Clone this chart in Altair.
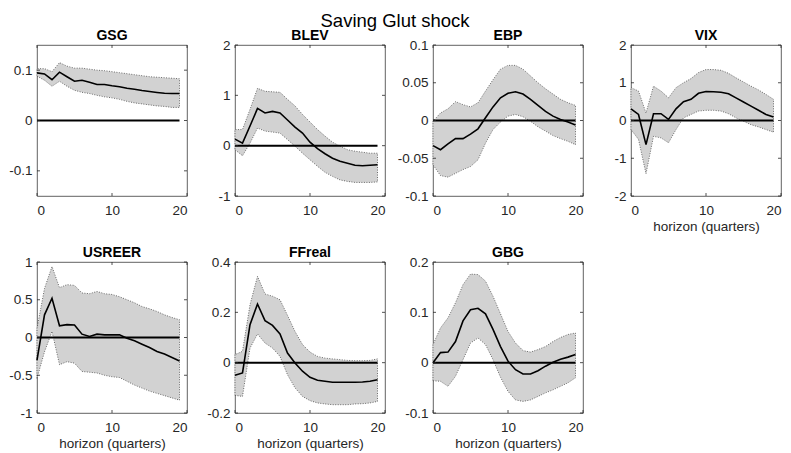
import altair as alt
import pandas as pd

H = list(range(20))

GSG_MED = [0.0946, 0.0926, 0.081, 0.096, 0.087, 0.078, 0.080, 0.076, 0.0714, 0.0714,
           0.069, 0.067, 0.064, 0.062, 0.0595, 0.0575, 0.0556, 0.054, 0.0536, 0.0536]
GSG_HI = [0.103, 0.103, 0.097, 0.115, 0.108, 0.104, 0.104, 0.102, 0.100, 0.099,
          0.097, 0.095, 0.093, 0.091, 0.089, 0.087, 0.086, 0.085, 0.084, 0.083]
GSG_LO = [0.088, 0.080, 0.068, 0.078, 0.068, 0.060, 0.056, 0.0536, 0.050, 0.047,
          0.045, 0.042, 0.038, 0.035, 0.033, 0.031, 0.029, 0.028, 0.026, 0.026]

BLEV_MED = [0.13, 0.05, 0.39, 0.74, 0.65, 0.68, 0.65, 0.51, 0.37, 0.25,
            0.07, -0.06, -0.16, -0.25, -0.31, -0.35, -0.39, -0.40, -0.39, -0.38]
BLEV_HI = [0.32, 0.32, 0.72, 1.14, 1.08, 1.07, 1.06, 0.92, 0.79, 0.62,
           0.47, 0.32, 0.19, 0.07, -0.01, -0.08, -0.11, -0.13, -0.15, -0.15]
BLEV_LO = [-0.08, -0.20, 0.05, 0.35, 0.29, 0.27, 0.25, 0.12, -0.01, -0.15,
           -0.28, -0.41, -0.53, -0.61, -0.68, -0.71, -0.73, -0.73, -0.73, -0.72]

EBP_MED = [-0.0333, -0.0387, -0.031, -0.024, -0.024, -0.018, -0.011, 0.0036, 0.018, 0.030,
           0.036, 0.038, 0.035, 0.028, 0.020, 0.012, 0.0058, 0.0013, -0.002, -0.0058]
EBP_HI = [-0.001, 0.010, 0.0155, 0.025, 0.021, 0.018, 0.0235, 0.039, 0.054, 0.068,
          0.073, 0.073, 0.068, 0.059, 0.050, 0.042, 0.035, 0.028, 0.0235, 0.020]
EBP_LO = [-0.0587, -0.073, -0.075, -0.070, -0.065, -0.061, -0.052, -0.030, -0.012, -0.002,
          0.0058, 0.008, 0.005, -0.001, -0.0084, -0.014, -0.020, -0.024, -0.0276, -0.032]

VIX_MED = [0.31, 0.16, -0.64, 0.18, 0.18, 0.03, 0.31, 0.50, 0.56, 0.72,
           0.77, 0.76, 0.75, 0.71, 0.60, 0.49, 0.38, 0.27, 0.16, 0.09]
VIX_HI = [0.87, 0.78, 0.20, 0.91, 0.78, 0.60, 0.87, 1.00, 1.11, 1.27,
          1.35, 1.35, 1.33, 1.25, 1.13, 1.02, 0.91, 0.81, 0.69, 0.56]
VIX_LO = [-0.24, -0.50, -1.41, -0.42, -0.46, -0.59, -0.24, 0.07, 0.16, 0.25,
          0.27, 0.27, 0.25, 0.18, 0.07, -0.02, -0.11, -0.17, -0.24, -0.31]

USREER_MED = [-0.30, 0.30, 0.52, 0.155, 0.17, 0.165, 0.044, 0.013, 0.044, 0.035,
              0.035, 0.035, -0.009, -0.044, -0.088, -0.133, -0.186, -0.22, -0.265, -0.31]
USREER_HI = [0.12, 0.65, 0.94, 0.66, 0.70, 0.69, 0.59, 0.58, 0.61, 0.58,
             0.57, 0.54, 0.50, 0.46, 0.41, 0.38, 0.345, 0.30, 0.265, 0.235]
USREER_LO = [-0.54, -0.19, 0.08, -0.36, -0.32, -0.34, -0.45, -0.46, -0.47, -0.50,
             -0.52, -0.53, -0.58, -0.63, -0.67, -0.71, -0.74, -0.77, -0.80, -0.83]

FFREAL_MED = [-0.050, -0.041, 0.151, 0.233, 0.167, 0.148, 0.114, 0.038, -0.001, -0.034,
              -0.058, -0.070, -0.074, -0.078, -0.078, -0.078, -0.078, -0.077, -0.074, -0.068]
FFREAL_HI = [0.032, 0.045, 0.23, 0.343, 0.273, 0.264, 0.25, 0.188, 0.124, 0.072,
             0.042, 0.025, 0.018, 0.015, 0.012, 0.009, 0.008, 0.008, 0.009, 0.015]
FFREAL_LO = [-0.13, -0.134, 0.058, 0.114, 0.078, 0.058, 0.025, -0.048, -0.10, -0.134,
             -0.151, -0.16, -0.164, -0.167, -0.167, -0.167, -0.164, -0.163, -0.16, -0.154]

GBG_MED = [0.0, 0.020, 0.021, 0.042, 0.083, 0.105, 0.108, 0.097, 0.066, 0.032,
           0.003, -0.014, -0.0225, -0.0225, -0.016, -0.007, 0.0007, 0.007, 0.011, 0.016]
GBG_HI = [0.036, 0.069, 0.089, 0.119, 0.155, 0.176, 0.175, 0.162, 0.132, 0.097,
          0.062, 0.039, 0.024, 0.021, 0.026, 0.032, 0.042, 0.050, 0.056, 0.059]
GBG_LO = [-0.036, -0.037, -0.047, -0.027, 0.006, 0.039, 0.049, 0.036, 0.006, -0.029,
          -0.057, -0.074, -0.077, -0.074, -0.067, -0.060, -0.054, -0.047, -0.040, -0.030]

X_TICKS = [0, 10, 20]
X_TITLE = "horizon (quarters)"
MAIN_TITLE = "Saving Glut shock"

PANELS = [
    ("GSG", GSG_MED, GSG_LO, GSG_HI, [-0.15, 0.15], [-0.1, 0, 0.1], False),
    ("BLEV", BLEV_MED, BLEV_LO, BLEV_HI, [-1, 2], [-1, 0, 1, 2], False),
    ("EBP", EBP_MED, EBP_LO, EBP_HI, [-0.1, 0.1], [-0.1, -0.05, 0, 0.05, 0.1], False),
    ("VIX", VIX_MED, VIX_LO, VIX_HI, [-2, 2], [-2, -1, 0, 1, 2], True),
    ("USREER", USREER_MED, USREER_LO, USREER_HI, [-1, 1], [-1, -0.5, 0, 0.5, 1], True),
    ("FFreal", FFREAL_MED, FFREAL_LO, FFREAL_HI, [-0.2, 0.4], [-0.2, 0, 0.2, 0.4], True),
    ("GBG", GBG_MED, GBG_LO, GBG_HI, [-0.1, 0.2], [-0.1, 0, 0.1, 0.2], True),
]

FONT = "Liberation Sans"
PW, PH = 150, 151
TICK_LEN = 3
LABEL_SIZE = 13.5


def panel(name, med, lo, hi, ydom, yticks, show_xtitle):
    df = pd.DataFrame({"h": H, "med": med, "lo": lo, "hi": hi})
    xscale = alt.Scale(domain=[0, 20], nice=False, zero=False)
    yscale = alt.Scale(domain=ydom, nice=False, zero=False)
    xaxis = alt.Axis(values=X_TICKS, labelExpr="'' + datum.value")
    yaxis = alt.Axis(values=yticks, labelExpr="'' + datum.value")
    xt_ = X_TITLE if show_xtitle else None
    # a y label sitting on the top edge pushes the title up; compensate
    top_label = abs(yticks[-1] - ydom[1]) < 1e-9
    toff = -16 if top_label else -9
    base = alt.Chart(df)
    band = base.mark_area(fill="#d2d2d2", stroke="#4a4a4a", strokeDash=[1, 1.5],
                          strokeWidth=0.8).encode(
        x=alt.X("h:Q", scale=xscale, axis=xaxis, title=xt_),
        y=alt.Y("lo:Q", scale=yscale, axis=yaxis, title=None),
        y2="hi:Q",
    )
    zero = alt.Chart(pd.DataFrame({"a": [0], "b": [19], "z": [0]})).mark_rule(
        color="black", strokeWidth=2).encode(
        x=alt.X("a:Q", axis=xaxis, title=xt_), x2="b:Q",
        y=alt.Y("z:Q", axis=yaxis, title=None))
    line = base.mark_line(color="black", strokeWidth=1.6).encode(
        x=alt.X("h:Q", axis=xaxis, title=xt_), y=alt.Y("med:Q", axis=yaxis, title=None))
    xt = alt.Chart(pd.DataFrame({"t": X_TICKS}))
    yt = alt.Chart(pd.DataFrame({"t": yticks}))
    tcol = "#262626"
    xb = xt.mark_rule(color=tcol, strokeWidth=0.8).encode(
        x=alt.X("t:Q", axis=xaxis, title=xt_), y=alt.value(PH), y2=alt.value(PH - TICK_LEN))
    xtop = xt.mark_rule(color=tcol, strokeWidth=0.8).encode(
        x=alt.X("t:Q", axis=xaxis, title=xt_), y=alt.value(0), y2=alt.value(TICK_LEN))
    yl = yt.mark_rule(color=tcol, strokeWidth=0.8).encode(
        y=alt.Y("t:Q", axis=yaxis, title=None), x=alt.value(0), x2=alt.value(TICK_LEN))
    yr = yt.mark_rule(color=tcol, strokeWidth=0.8).encode(
        y=alt.Y("t:Q", axis=yaxis, title=None), x=alt.value(PW), x2=alt.value(PW - TICK_LEN))
    return alt.layer(band, zero, line, xb, xtop, yl, yr).properties(
        width=PW, height=PH,
        title=alt.TitleParams(name, font=FONT, fontSize=14, fontWeight="bold",
                              color="black", offset=toff, baseline="alphabetic"),
    )


charts = [panel(*p) for p in PANELS]

chart = alt.concat(*charts, columns=4, spacing={"row": 66, "column": 48},
                   bounds="flush").properties(
    title=alt.TitleParams(MAIN_TITLE, font=FONT, fontSize=18.5, fontWeight="normal",
                          color="black", anchor="middle", offset=-2),
    padding={"left": 0, "top": 3, "right": 0, "bottom": 0},
).configure_view(
    stroke="#3a3a3a", strokeWidth=0.8
).configure_axis(
    labelFont=FONT, labelFontSize=LABEL_SIZE, labelColor="#262626",
    titleFont=FONT, titleFontSize=13.5, titleFontWeight="normal", titleColor="#262626",
    titlePadding=3, domain=False, ticks=False, grid=False,
).configure_axisX(labelPadding=7).configure_axisY(labelPadding=5)

chart.save("out.html", embed_options={"renderer": "svg", "actions": False})
